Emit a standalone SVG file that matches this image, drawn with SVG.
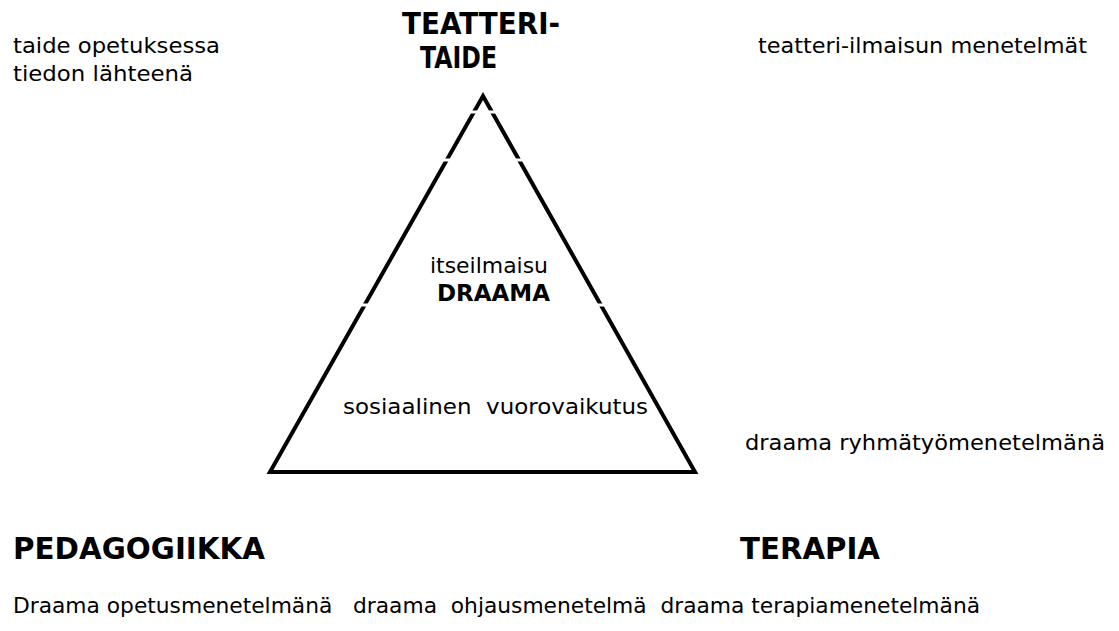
<svg xmlns="http://www.w3.org/2000/svg" width="1119" height="631" viewBox="0 0 1119 631">
  <style>
    text { font-family: "DejaVu Sans", Verdana, sans-serif; fill: #000; }
    .reg { font-size: 22px; }
    .head { font-size: 30px; font-weight: bold; }
    .mid { font-size: 23px; font-weight: bold; }
    .tri { fill: none; stroke: #000; stroke-width: 4; stroke-linejoin: miter; stroke-miterlimit: 10; }
    .cut { fill: #fff; }
  </style>
  <rect width="1119" height="631" fill="#fff"/>

  <!-- drama triangle with thin horizontal breaks in the slanted sides -->
  <g id="triangle">
    <path class="tri" d="M270,472 L483,96 L695,472 Z"/>
    <rect class="cut" x="467" y="110.5" width="14" height="3"/>
    <rect class="cut" x="485" y="110.5" width="14" height="3"/>
    <rect class="cut" x="440" y="158.5" width="14" height="3"/>
    <rect class="cut" x="512" y="158.5" width="14" height="3"/>
    <rect class="cut" x="357" y="303.5" width="14" height="3"/>
    <rect class="cut" x="594" y="303.5" width="14" height="3"/>
  </g>

  <g id="teatteritaide">
    <text class="head" x="402" y="34" textLength="158" lengthAdjust="spacingAndGlyphs">TEATTERI-</text>
    <text class="head" x="420" y="68" textLength="77" lengthAdjust="spacingAndGlyphs">TAIDE</text>
  </g>

  <g id="taide-opetuksessa">
    <text class="reg" x="13" y="53" textLength="207" lengthAdjust="spacingAndGlyphs">taide opetuksessa</text>
    <text class="reg" x="13" y="81" textLength="180" lengthAdjust="spacingAndGlyphs">tiedon lähteenä</text>
  </g>

  <g id="teatteri-ilmaisu">
    <text class="reg" x="758" y="53" textLength="329" lengthAdjust="spacingAndGlyphs">teatteri-ilmaisun menetelmät</text>
  </g>

  <g id="draama">
    <text class="reg" x="430" y="273" textLength="118" lengthAdjust="spacingAndGlyphs">itseilmaisu</text>
    <text class="mid" x="437" y="301" textLength="113" lengthAdjust="spacingAndGlyphs">DRAAMA</text>
  </g>

  <g id="vuorovaikutus">
    <text class="reg" x="343" y="414" textLength="305" lengthAdjust="spacingAndGlyphs" xml:space="preserve">sosiaalinen  vuorovaikutus</text>
  </g>

  <g id="ryhmatyo">
    <text class="reg" x="745" y="450" textLength="360" lengthAdjust="spacingAndGlyphs">draama ryhmätyömenetelmänä</text>
  </g>

  <g id="pedagogiikka">
    <text class="head" x="13" y="559" textLength="252" lengthAdjust="spacingAndGlyphs">PEDAGOGIIKKA</text>
  </g>

  <g id="terapia">
    <text class="head" x="740" y="559" textLength="140" lengthAdjust="spacingAndGlyphs">TERAPIA</text>
  </g>

  <g id="menetelmat">
    <text class="reg" x="13" y="613" textLength="967" lengthAdjust="spacingAndGlyphs" xml:space="preserve">Draama opetusmenetelmänä   draama  ohjausmenetelmä  draama terapiamenetelmänä</text>
  </g>
</svg>
